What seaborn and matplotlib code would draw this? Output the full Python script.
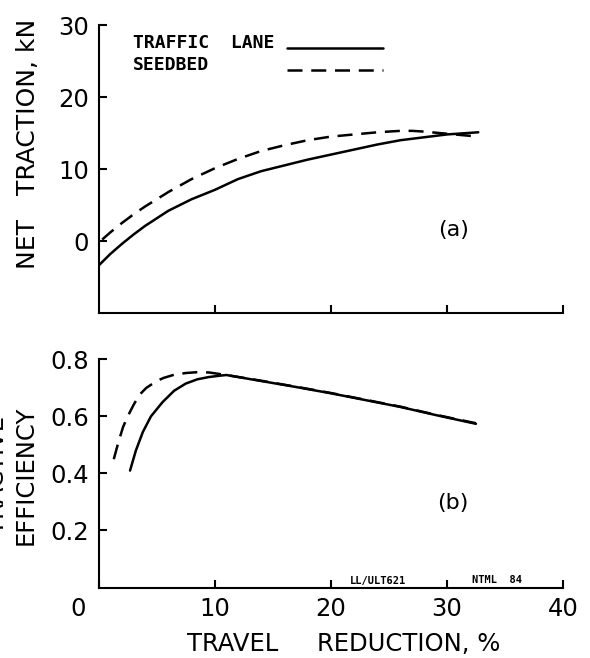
import numpy as np
import pandas as pd
import matplotlib
matplotlib.use("Agg")
import matplotlib.pyplot as plt
import seaborn as sns

# (a) Net traction, kN, against travel reduction, %
slip_lane_a = [0, 1, 2, 3, 4, 6, 8, 10, 12, 14, 16, 18, 20, 22, 24, 26, 28, 30, 32.7]
traction_lane = [-3.4, -1.8, -0.4, 0.9, 2.1, 4.2, 5.8, 7.1, 8.6, 9.7, 10.5, 11.3,
                 12.0, 12.7, 13.4, 14.0, 14.4, 14.8, 15.1]
slip_seed_a = [0.3, 1, 2, 3, 4, 6, 8, 10, 12, 14, 16, 18, 20, 22, 24, 26, 27, 28, 30, 32.7]
traction_seed = [0.2, 1.2, 2.5, 3.7, 4.8, 6.8, 8.6, 10.1, 11.4, 12.5, 13.3, 14.0,
                 14.5, 14.8, 15.1, 15.3, 15.3, 15.2, 14.9, 14.5]

# (b) Tractive efficiency against travel reduction, %
slip_lane_b = [2.7, 3.2, 3.8, 4.5, 5.5, 6.5, 7.5, 8.5, 9.5, 10.5, 11, 14, 17, 20,
               23, 26, 29, 32.5]
eff_lane = [0.41, 0.48, 0.545, 0.60, 0.65, 0.69, 0.715, 0.73, 0.738, 0.743, 0.745,
            0.724, 0.703, 0.681, 0.657, 0.633, 0.605, 0.574]
slip_seed_b = [1.3, 1.7, 2.1, 2.5, 3.0, 3.5, 4.1, 5.0, 5.6, 6.5, 7.5, 8.5, 9.5,
               10.5, 11, 14, 17, 20, 23, 26, 29, 32.5]
eff_seed = [0.45, 0.51, 0.563, 0.60, 0.64, 0.675, 0.70, 0.724, 0.735, 0.746, 0.752,
            0.755, 0.754, 0.748, 0.745, 0.725, 0.704, 0.682, 0.658, 0.634, 0.606, 0.576]

surfaces = ["TRAFFIC  LANE", "SEEDBED"]
x_ticks = [0, 10, 20, 30, 40]
x_tick_labels = ["0", "10", "20", "30", "40"]
traction_ticks = [0, 10, 20, 30]
eff_ticks = [0.2, 0.4, 0.6, 0.8]
eff_tick_labels = ["0.2", "0.4", "0.6", "0.8"]

df_a = pd.concat([
    pd.DataFrame({"slip": slip_lane_a, "value": traction_lane, "surface": surfaces[0]}),
    pd.DataFrame({"slip": slip_seed_a, "value": traction_seed, "surface": surfaces[1]}),
])
df_b = pd.concat([
    pd.DataFrame({"slip": slip_lane_b, "value": eff_lane, "surface": surfaces[0]}),
    pd.DataFrame({"slip": slip_seed_b, "value": eff_seed, "surface": surfaces[1]}),
])

sns.set_style("ticks")
plt.rcParams["font.family"] = ["DejaVu Sans"]
plt.rcParams.update({
    "axes.linewidth": 1.5,
    "text.color": "black",
    "axes.labelcolor": "black",
    "xtick.color": "black",
    "ytick.color": "black",
    "axes.edgecolor": "black",
})

dash_map = {surfaces[0]: "", surfaces[1]: (6, 3.5)}
LW = 1.8
TICK_FS = 17.5
LABEL_FS = 17.5

fig = plt.figure(figsize=(5.9, 6.58), dpi=100)
ax_a = fig.add_axes([0.1673, 0.5243, 0.7869, 0.4377])
ax_b = fig.add_axes([0.1673, 0.1071, 0.7869, 0.3468])

for ax, df in ((ax_a, df_a), (ax_b, df_b)):
    sns.lineplot(data=df, x="slip", y="value", style="surface", dashes=dash_map,
                 color="black", lw=LW, estimator=None, sort=False, legend=False, ax=ax)
    sns.despine(ax=ax)
    ax.set_xlim(0, 40)
    ax.tick_params(direction="in", length=6, width=1.5, pad=7,
                   labelsize=TICK_FS, colors="black")
    ax.set_xlabel("")
    ax.set_ylabel("")

# panel (a)
ax_a.set_ylim(-10, 30)
ax_a.set_yticks(traction_ticks)
ax_a.set_yticklabels([str(t) for t in traction_ticks])
ax_a.set_xticks(x_ticks[1:])
ax_a.set_xticklabels([])
ax_a.set_ylabel("NET   TRACTION, kN", fontsize=18)
ax_a.yaxis.label.set_va("center")
ax_a.yaxis.set_label_coords(-0.1516, 0.5885)
ax_a.text(30.6, 1.5, "(a)", fontsize=16, ha="center", va="center")

# legend drawn as text beside sample strokes
leg_font = dict(family="DejaVu Sans Mono", fontsize=13, weight="bold",
                va="baseline", ha="left")
ax_a.text(0.073, 0.919, surfaces[0], transform=ax_a.transAxes, **leg_font)
ax_a.text(0.073, 0.844, surfaces[1], transform=ax_a.transAxes, **leg_font)
ax_a.plot([0.405, 0.613], [0.919, 0.919], transform=ax_a.transAxes,
          color="black", lw=LW, clip_on=False)
ax_a.plot([0.405, 0.613], [0.844, 0.844], transform=ax_a.transAxes,
          color="black", lw=LW, dashes=(6, 3.5), clip_on=False)

# panel (b)
ax_b.set_ylim(0, 0.8)
ax_b.set_yticks(eff_ticks)
ax_b.set_yticklabels(eff_tick_labels)
ax_b.set_xticks(x_ticks)
ax_b.set_xticklabels([""] + x_tick_labels[1:])
zero_tr, zero_va, _ = ax_b.get_xaxis_text1_transform(7)
ax_b.text(-1.8, 0, x_tick_labels[0], transform=zero_tr, va=zero_va, ha="center",
          fontsize=TICK_FS)
ax_b.set_ylabel("TRACTIVE\nEFFICIENCY", fontsize=LABEL_FS, linespacing=1.25)
ax_b.yaxis.label.set_va("center")
ax_b.yaxis.set_label_coords(-0.188, 0.493)
ax_b.set_xlabel("TRAVEL     REDUCTION, %", fontsize=LABEL_FS)
ax_b.xaxis.label.set_va("center")
ax_b.xaxis.set_label_coords(0.528, -0.249)
ax_b.text(30.5, 0.296, "(b)", fontsize=16, ha="center", va="center")

small = dict(family="DejaVu Sans Mono", fontsize=7.5, weight="bold",
             ha="center", va="baseline")
ax_b.text(24.1, 0.012, "LL/ULT621", **small)
ax_b.text(34.3, 0.015, "NTML  84", **small)

fig.savefig("out.png", dpi=100)
